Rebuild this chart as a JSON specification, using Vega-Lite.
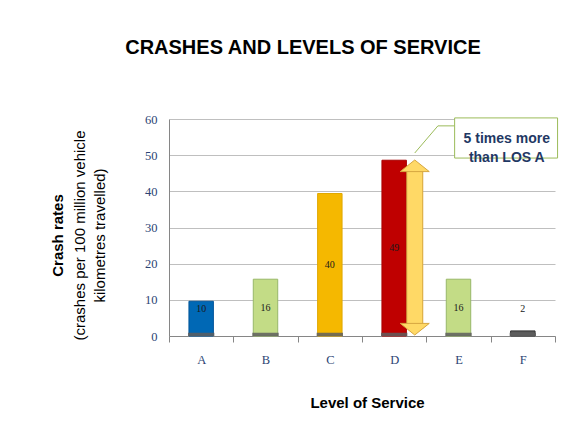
{
  "$schema": "https://vega.github.io/schema/vega-lite/v6.json",
  "width": 386,
  "height": 217,
  "autosize": {"type": "none"},
  "padding": {"left": 169, "top": 119, "right": 32, "bottom": 112},
  "background": "white",
  "title": {
    "text": "CRASHES AND LEVELS OF SERVICE",
    "font": "Liberation Sans",
    "fontSize": 20,
    "fontWeight": "bold",
    "color": "black",
    "anchor": "middle",
    "dx": -59,
    "offset": 55
  },
  "config": {
    "view": {"stroke": null},
    "axis": {"labelFont": "Liberation Serif", "labelFontSize": 12.5, "labelColor": "#2B4474"}
  },
  "datasets": {
    "bars": [
      {"los": "A", "value": 9.6, "label": "10"},
      {"los": "B", "value": 15.7, "label": "16"},
      {"los": "C", "value": 39.4, "label": "40"},
      {"los": "D", "value": 48.6, "label": "49"},
      {"los": "E", "value": 15.7, "label": "16"},
      {"los": "F", "value": 1.4, "label": "2"}
    ]
  },
  "resolve": {"axis": {"y": "independent"}},
  "layer": [
    {
      "data": {"name": "bars"},
      "mark": {"type": "bar", "width": {"band": 0.38}, "strokeWidth": 1},
      "encoding": {
        "x": {
          "field": "los", "type": "nominal", "sort": null,
          "scale": {"paddingInner": 0, "paddingOuter": 0},
          "axis": {
            "title": "Level of Service", "labelAngle": 0, "labelPadding": 11,
            "tickBand": "extent", "tickSize": 6, "tickColor": "#868686",
            "domainColor": "#868686", "grid": false,
            "titleFont": "Liberation Sans", "titleFontSize": 15, "titleFontWeight": "bold",
            "titleColor": "black", "titleX": 198, "titleY": 66, "titleBaseline": "middle"
          }
        },
        "y": {
          "field": "value", "type": "quantitative",
          "scale": {"domain": [0, 60], "nice": false},
          "axis": {
            "orient": "left",
            "values": [0, 10, 20, 30, 40, 50, 60],
            "ticks": false, "labelPadding": 12,
            "domainColor": "#868686", "gridColor": "#BFBFBF", "grid": true,
            "title": "Crash rates",
            "titleFont": "Liberation Sans", "titleFontSize": 15, "titleFontWeight": "bold",
            "titleColor": "black", "titleX": -112, "titleY": 116,
            "titleBaseline": "middle", "titleAlign": "center", "titleAngle": -90
          }
        },
        "color": {
          "field": "los", "type": "nominal", "legend": null,
          "scale": {"domain": ["A", "B", "C", "D", "E", "F"], "range": ["#0068B5", "#C3DC86", "#F5B800", "#BF0000", "#C3DC86", "#5A5A5A"]}
        },
        "stroke": {
          "field": "los", "type": "nominal", "legend": null,
          "scale": {"domain": ["A", "B", "C", "D", "E", "F"], "range": ["#00549A", "#98B868", "#E0A800", "#A80000", "#98B868", "#333333"]}
        }
      }
    },
    {
      "data": {"name": "bars"},
      "mark": {"type": "bar", "width": {"band": 0.41}, "color": "#5E5E5E", "opacity": 0.85},
      "encoding": {
        "x": {"field": "los", "type": "nominal", "sort": null},
        "y": {"datum": 0, "type": "quantitative",
          "axis": {
            "orient": "left", "labels": false, "ticks": false, "domain": false, "grid": false,
            "title": ["(crashes per 100 million vehicle", "kilometres  travelled)"],
            "titleFont": "Liberation Sans", "titleFontSize": 15, "titleFontWeight": "normal",
            "titleColor": "black", "titleX": -90, "titleY": 116, "titleLineHeight": 20,
            "titleBaseline": "middle", "titleAlign": "center", "titleAngle": -90
          }
        },
        "y2": {"datum": 0.9}
      }
    },
    {
      "data": {"name": "bars"},
      "transform": [{"calculate": "max(datum.value / 2, 7.6)", "as": "labelY"}],
      "mark": {"type": "text", "font": "Liberation Serif", "fontSize": 10, "color": "#1A1A1A", "baseline": "middle"},
      "encoding": {
        "x": {"field": "los", "type": "nominal", "sort": null},
        "y": {"field": "labelY", "type": "quantitative", "axis": null},
        "text": {"field": "label"}
      }
    },
    {
      "data": {"values": [{"los": "D", "from": 2.0, "to": 46.5}]},
      "mark": {"type": "rule", "color": "#D6A640", "strokeWidth": 17},
      "encoding": {
        "x": {"field": "los", "type": "nominal", "bandPosition": 0.82},
        "y": {"field": "from", "type": "quantitative", "axis": null},
        "y2": {"field": "to"}
      }
    },
    {
      "data": {"values": [{"los": "D", "from": 2.0, "to": 46.5}]},
      "mark": {"type": "rule", "color": "#FFD966", "strokeWidth": 15},
      "encoding": {
        "x": {"field": "los", "type": "nominal", "bandPosition": 0.82},
        "y": {"field": "from", "type": "quantitative", "axis": null},
        "y2": {"field": "to"}
      }
    },
    {
      "data": {
        "values": [
          {"los": "D", "value": 47.06, "dir": "up"},
          {"los": "D", "value": 1.88, "dir": "down"}
        ]
      },
      "mark": {"type": "point", "filled": true, "fill": "#FFD966", "stroke": "#D6A640", "strokeWidth": 1, "opacity": 1, "size": 841},
      "encoding": {
        "x": {"field": "los", "type": "nominal", "bandPosition": 0.82},
        "y": {"field": "value", "type": "quantitative", "axis": null},
        "shape": {
          "field": "dir", "type": "nominal", "legend": null,
          "scale": {"domain": ["up", "down"], "range": ["M -1 0.4 L 1 0.4 L 0 -0.4 Z", "M -1 -0.4 L 1 -0.4 L 0 0.4 Z"]}
        }
      }
    },
    {
      "data": {"values": [{"los": "D", "los2": "E", "ya": 50.6, "yb": 58.1}]},
      "mark": {"type": "rule", "color": "#9BBB59", "strokeWidth": 1},
      "encoding": {
        "x": {"field": "los", "type": "nominal", "bandPosition": 0.82},
        "x2": {"field": "los2", "bandPosition": 0.18},
        "y": {"field": "ya", "type": "quantitative", "axis": null},
        "y2": {"field": "yb"}
      }
    },
    {
      "data": {"values": [{"los": "D", "los2": "E", "ya": 50.6, "yb": 58.1}]},
      "mark": {"type": "rule", "color": "#9BBB59", "strokeWidth": 1},
      "encoding": {
        "x": {"field": "los2", "type": "nominal", "bandPosition": 0.18},
        "x2": {"field": "los2", "bandPosition": 0.44},
        "y": {"field": "yb", "type": "quantitative", "axis": null}
      }
    },
    {
      "data": {"values": [{"los": "E", "los2": "F", "top": 60.3, "bottom": 49.2}]},
      "mark": {"type": "rect", "fill": "white", "stroke": "#9BBB59", "strokeWidth": 1},
      "encoding": {
        "x": {"field": "los", "type": "nominal", "bandPosition": 0.44},
        "x2": {"field": "los2", "bandPosition": 1.04},
        "y": {"field": "top", "type": "quantitative", "axis": null},
        "y2": {"field": "bottom"}
      }
    },
    {
      "data": {"values": [{"los": "F", "mid": 54.35, "note": "5 times more\nthan LOS A"}]},
      "mark": {"type": "text", "font": "Liberation Sans", "fontSize": 14, "fontWeight": "bold", "color": "#1F3864", "lineBreak": "\n", "lineHeight": 19, "baseline": "middle", "align": "center"},
      "encoding": {
        "x": {"field": "los", "type": "nominal", "bandPosition": 0.25},
        "y": {"field": "mid", "type": "quantitative", "axis": null},
        "text": {"field": "note"}
      }
    }
  ]
}
